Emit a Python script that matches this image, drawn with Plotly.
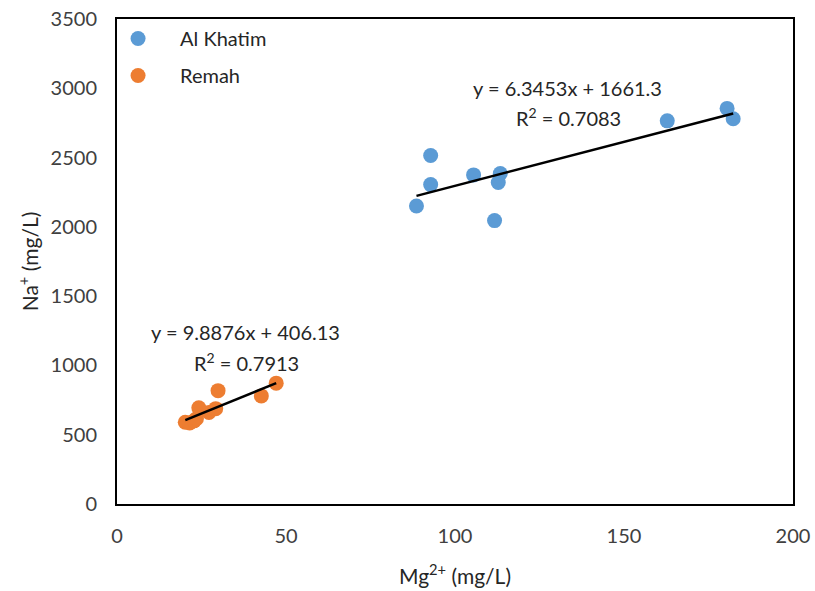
import plotly.graph_objects as go

# Mg2+ vs Na+ concentrations (mg/L) for the two well fields
khatim_mg = [88.6, 92.8, 92.8, 105.5, 113.4, 112.8, 111.7, 162.8, 180.5, 182.3]
khatim_na = [2150, 2515, 2305, 2375, 2385, 2320, 2045, 2765, 2855, 2780]

remah_mg = [20.2, 21.5, 22.8, 23.5, 24.2, 27.2, 29.2, 29.9, 42.7, 47.1]
remah_na = [590, 585, 600, 615, 695, 660, 688, 818, 780, 872]

# Linear trend fits (slope, intercept, R²)
khatim_fit = (6.3453, 1661.3, 0.7083)
remah_fit = (9.8876, 406.13, 0.7913)

blue = "#5B9BD5"
orange = "#ED7D31"
font_family = "Lato, 'Open Sans', sans-serif"

fig = go.Figure()

for name, xs, ys, color in [("Al Khatim", khatim_mg, khatim_na, blue),
                            ("Remah", remah_mg, remah_na, orange)]:
    fig.add_trace(go.Scatter(x=xs, y=ys, mode="markers", name=name, legendgroup=name,
                             marker=dict(color=color, size=15, line=dict(width=0))))

for xs, (m, b, r2) in [(khatim_mg, khatim_fit), (remah_mg, remah_fit)]:
    x0, x1 = min(xs), max(xs)
    fig.add_trace(go.Scatter(x=[x0, x1], y=[m * x0 + b, m * x1 + b], mode="lines",
                             line=dict(color="black", width=2.5), showlegend=False,
                             hoverinfo="skip"))

text_font = dict(family=font_family, size=20, color="#262626")


def eq_label(m, b):
    return f"y = {m:g}x + {b:g}"


fig.add_annotation(x=133.2, y=3000, xref="x", yref="y", text=eq_label(*khatim_fit[:2]),
                   showarrow=False, font=text_font)
fig.add_annotation(x=133.5, y=2790, xref="x", yref="y",
                   text=f"R<sup>2</sup> = {khatim_fit[2]:.4f}", showarrow=False, font=text_font)
fig.add_annotation(x=37.9, y=1240, xref="x", yref="y", text=eq_label(*remah_fit[:2]),
                   showarrow=False, font=text_font)
fig.add_annotation(x=38.2, y=1025, xref="x", yref="y",
                   text=f"R<sup>2</sup> = {remah_fit[2]:.4f}", showarrow=False, font=text_font)

axis_common = dict(showgrid=False, zeroline=False, showline=True, linecolor="black",
                   linewidth=2, mirror=True, ticks="", automargin=False,
                   tickfont=dict(family=font_family, size=20, color="#404040"))

fig.update_xaxes(range=[0, 200], tickvals=[0, 50, 100, 150, 200],
                 title=dict(text="Mg<sup>2+</sup> (mg/L)", standoff=23,
                            font=dict(family=font_family, size=21, color="#262626")),
                 ticklabelstandoff=13, **axis_common)
fig.update_yaxes(range=[0, 3500], tickvals=[0, 500, 1000, 1500, 2000, 2500, 3000, 3500],
                 title=dict(text="Na<sup>+</sup> (mg/L)", standoff=6,
                            font=dict(family=font_family, size=21, color="#262626")),
                 ticklabelstandoff=14, **axis_common)

fig.update_layout(
    width=815, height=591,
    margin=dict(l=117, r=22, t=19, b=87, autoexpand=False),
    plot_bgcolor="white", paper_bgcolor="white",
    legend=dict(x=-0.031, y=1.0, xanchor="left", yanchor="top", bgcolor="rgba(0,0,0,0)",
                font=dict(family=font_family, size=20, color="#262626"),
                itemsizing="trace", itemwidth=74, tracegroupgap=8),
)

fig.write_html("out.html")
